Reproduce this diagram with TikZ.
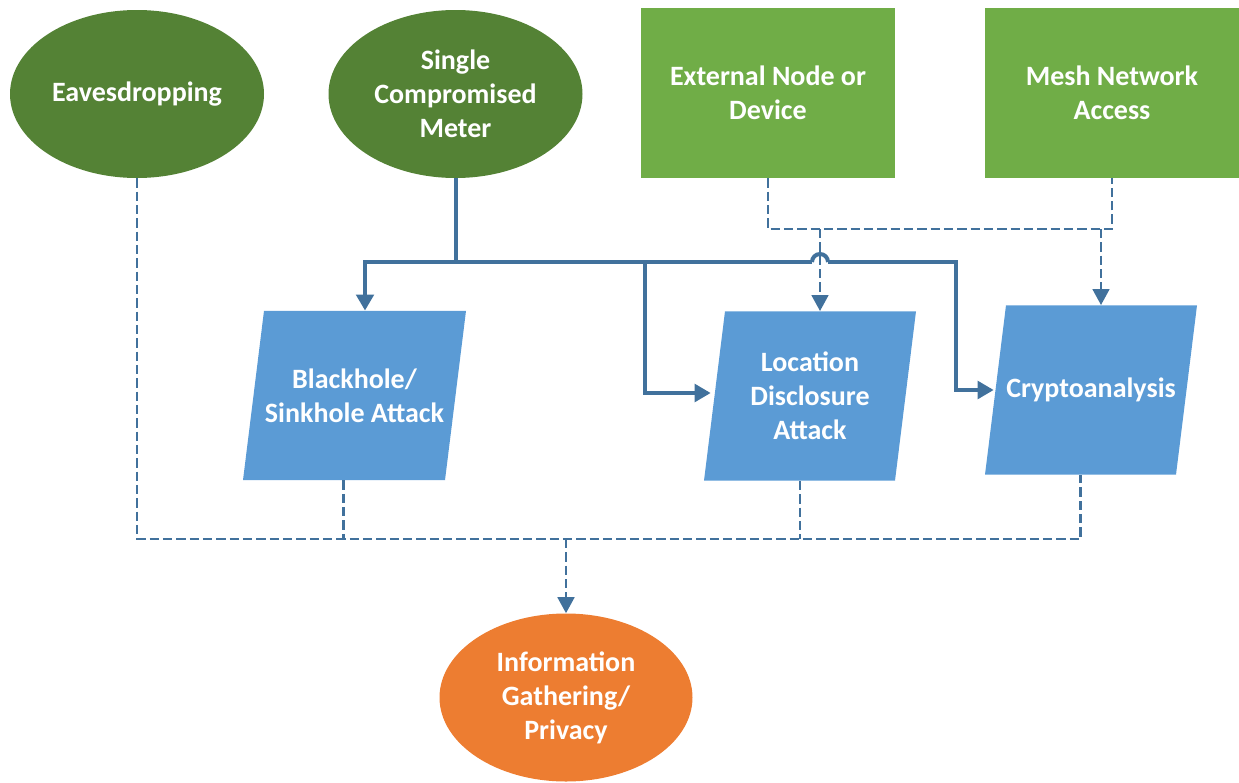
\documentclass[tikz,border=0pt]{standalone}
\usepackage{fontspec}
\setmainfont{Carlito}
\usetikzlibrary{arrows.meta,calc,shapes.geometric}
\definecolor{darkgreen}{HTML}{548235}
\definecolor{lightgreen}{HTML}{70AD47}
\definecolor{boxblue}{HTML}{5B9BD5}
\definecolor{orng}{HTML}{ED7D31}
\definecolor{linkblue}{HTML}{41719C}

\begin{document}
\begin{tikzpicture}[x=0.75pt,y=-0.75pt,
  lbl/.style={text=white, font=\bfseries\fontsize{21}{25.5}\selectfont,
    align=center, inner sep=0pt},
  oval/.style={lbl, ellipse, minimum width=190.5pt, minimum height=126pt},
  greenbox/.style={lbl, rectangle, fill=lightgreen, minimum width=190.5pt,
    minimum height=127.5pt},
  para/.style={lbl, rectangle, minimum height=127pt,
    path picture={\fill[boxblue]
      ([xshift=15.75pt]path picture bounding box.north west) --
      (path picture bounding box.north east) --
      ([xshift=-15.75pt]path picture bounding box.south east) --
      (path picture bounding box.south west) -- cycle;}},
  solidline/.style={draw=linkblue, line width=3pt, line join=miter},
  solidarrow/.style={solidline, -{Triangle[width=13pt,length=12pt]}},
  dashline/.style={draw=linkblue, line width=2pt, dash pattern=on 7pt off 3pt},
  dasharrow/.style={dashline, -{Triangle[width=12.5pt,length=12pt]}}
]
\useasboundingbox (0,0) rectangle (1239,782);

% sources
\node[oval, fill=darkgreen] (eav) at (137,94) {Eavesdropping};
\node[oval, fill=darkgreen] (scm) at (455.5,94) {Single\\Compromised\\Meter};
\node[greenbox] (ext) at (768,93) {External Node or\\Device};
\node[greenbox] (mesh) at (1112,93) {Mesh Network\\Access};

% attacks
\node[para, minimum width=167.25pt] (bh) at (354.5,395.5) {Blackhole/\\Sinkhole Attack};
\node[para, minimum width=159pt] (loc) at (810,396) {Location\\Disclosure\\Attack};
\node[para, minimum width=159pt] (cry) at (1091,390) {Cryptoanalysis};

% outcome
\node[oval, fill=orng, minimum width=189.75pt] (info) at (566,697.5)
  {Information\\Gathering/\\Privacy};

% junction points
\coordinate (busL) at (365,262);
\coordinate (busR) at (956,262);
\coordinate (tap) at (645,262);
\coordinate (hop) at (820,262);
\coordinate (jt) at (820,229);
\coordinate (jt2) at (1101,229);
\coordinate (jb) at (566,539);
\coordinate (bhB) at ($(bh.south)+(-11,0)$);
\coordinate (locB) at ($(loc.south)+(-10,0)$);
\coordinate (cryB) at ($(cry.south)+(-10.5,0)$);

% solid links from the compromised meter
\draw[solidline] (scm.south) -- (scm.south |- busL);
\draw[solidarrow] ($(hop)+(-8,0)$) -- (busL) -- (busL |- bh.north);
\draw[solidline] ($(hop)+(-8,0)$) arc[start angle=180, end angle=0, radius=6pt];
\draw[solidarrow] ($(hop)+(8,0)$) -- (busR) |- ($(cry.west)+(9,0)$);
\draw[solidarrow] (tap) |- ($(loc.west)+(7,-3)$);

% dashed links from external node and mesh access
\draw[dashline] (ext.south) -- (ext.south |- jt) -| (mesh.south);
\draw[dasharrow] (jt) -- (jt |- loc.north);
\draw[dasharrow] (jt2) -- (jt2 |- cry.north);

% dashed links into information gathering
\draw[dashline] (eav.south) -- (eav.south |- jb) -| (cryB);
\draw[dashline] (bhB) -- (bhB |- jb);
\draw[dashline] (locB) -- (locB |- jb);
\draw[dasharrow] (jb) -- (info.north);
\end{tikzpicture}
\end{document}
